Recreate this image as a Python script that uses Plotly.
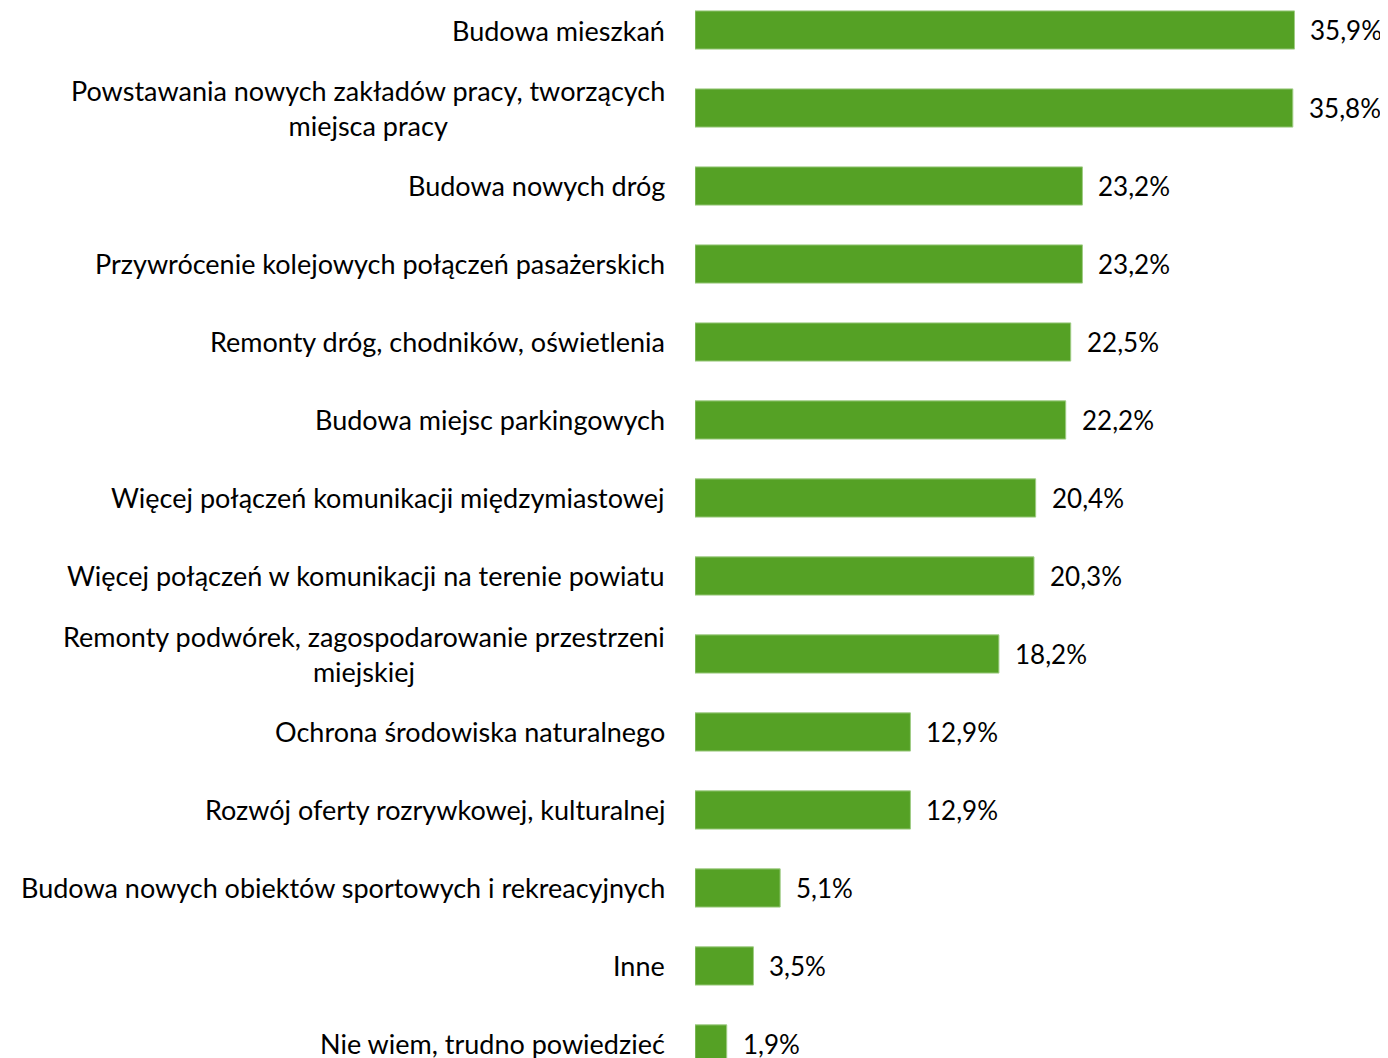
import plotly.graph_objects as go

# data
categories = [
    "Budowa mieszkań",
    "Powstawania nowych zakładów pracy, tworzących<br>miejsca pracy",
    "Budowa nowych dróg",
    "Przywrócenie kolejowych połączeń pasażerskich",
    "Remonty dróg, chodników, oświetlenia",
    "Budowa miejsc parkingowych",
    "Więcej połączeń komunikacji międzymiastowej",
    "Więcej połączeń w komunikacji na terenie powiatu",
    "Remonty podwórek, zagospodarowanie przestrzeni<br>miejskiej",
    "Ochrona środowiska naturalnego",
    "Rozwój oferty rozrywkowej, kulturalnej",
    "Budowa nowych obiektów sportowych i rekreacyjnych",
    "Inne",
    "Nie wiem, trudno powiedzieć",
]
values = [35.9, 35.8, 23.2, 23.2, 22.5, 22.2, 20.4, 20.3, 18.2, 12.9, 12.9, 5.1, 3.5, 1.9]
value_labels = [f"{v:.1f}%".replace(".", ",") for v in values]

GREEN = "#55A125"
FONT = "Lato"

fig = go.Figure(go.Bar(
    x=values, y=categories, orientation="h",
    marker=dict(color=GREEN, line=dict(color="#9fcc84", width=1)),
    width=0.49, hoverinfo="skip",
))

# category labels (centred multi-line, right anchored)
for cat in categories:
    fig.add_annotation(
        x=0, xref="paper", y=cat, yref="y", text=cat,
        xanchor="right", yanchor="middle", align="center", xshift=-28,
        showarrow=False, font=dict(family=FONT, size=27, color="#000000"),
    )

# value labels
for cat, v, lab in zip(categories, values, value_labels):
    fig.add_annotation(
        x=v, y=cat, text=lab, xanchor="left", yanchor="middle", xshift=14,
        showarrow=False, font=dict(family=FONT, size=26, color="#000000"),
    )

fig.update_layout(
    width=1380, height=1050,
    margin=dict(l=687, r=0, t=0, b=0),
    plot_bgcolor="white", paper_bgcolor="white",
    showlegend=False,
    xaxis=dict(range=[0, 41.5], visible=False),
    yaxis=dict(range=[13.18, -0.282], showticklabels=False, showgrid=False,
               zeroline=False, categoryorder="array", categoryarray=categories),
)

fig.write_html("out.html")
